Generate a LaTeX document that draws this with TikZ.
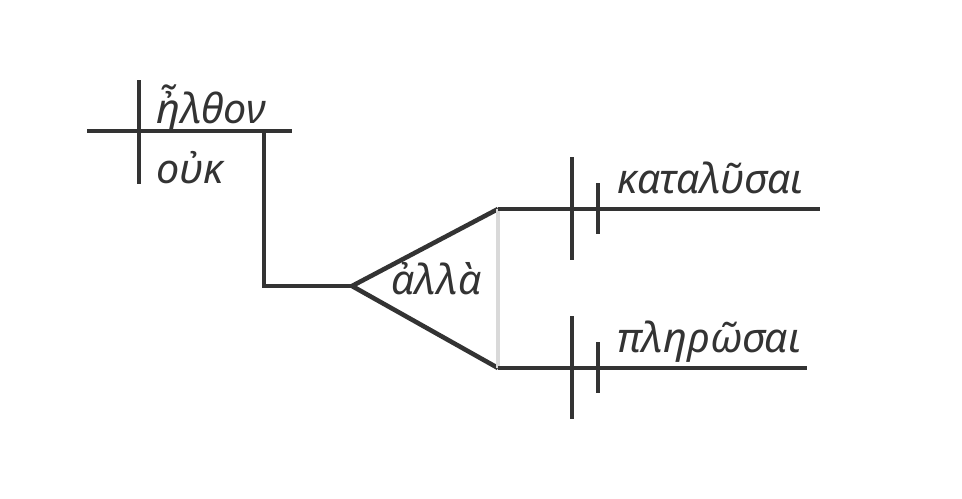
\documentclass[tikz,border=0pt]{standalone}
\usepackage{fontspec}
\setmainfont{Noto Sans}
\usetikzlibrary{positioning}
\definecolor{ink}{HTML}{333333}

\begin{document}
\begin{tikzpicture}[x=0.02cm, y=-0.02cm,
    diagline/.style={line width=2.6pt, ink},
    helpline/.style={line width=2pt, gray!30},
    word/.style={font=\fontsize{23.5}{28}\selectfont\itshape, text=ink,
                 inner sep=0pt, anchor=base west}]
  \useasboundingbox (0,0) rectangle (962,498);

  % Main clause: subject / verb line
  \coordinate (baseL) at (87,131);
  \coordinate (baseR) at (292,131);
  \coordinate (divT) at (139,80);
  \coordinate (divB) at (139,184);
  \draw[diagline] (baseL) -- (baseR);
  \draw[diagline] (divT) -- (divB);
  \node[word] (verb) at (156,123) {ἦλθον};
  \node[word] (neg) at (156,183) {οὐκ};

  % Stem down to the conjunction
  \coordinate (stemT) at (264,131);
  \coordinate (stemB) at (264,286);
  \coordinate (fork) at (352,286);
  \draw[diagline] (stemT) -- (stemB) -- (fork);

  % Conjunction fork
  \coordinate (upper) at (498,209);
  \coordinate (lower) at (498,368);
  \draw[diagline] (fork) -- (upper);
  \draw[diagline] (fork) -- (lower);
  \draw[helpline] (upper) -- (lower);
  \node[word] (conj) at (391,294) {ἀλλὰ};

  % Infinitive lines
  \foreach \y/\xend/\nm/\lbl in {209/820/inf1/καταλῦσαι, 368/807/inf2/πληρῶσαι} {
    \coordinate (\nm L) at (498,\y);
    \coordinate (\nm R) at (\xend,\y);
    \draw[diagline] (\nm L) -- (\nm R);
    \draw[diagline] (572,\y-52) -- (572,\y+51);
    \draw[diagline] (598,\y-26) -- (598,\y+25);
    \node[word] (\nm) at (617,\y-16) {\lbl};
  }
\end{tikzpicture}
\end{document}
